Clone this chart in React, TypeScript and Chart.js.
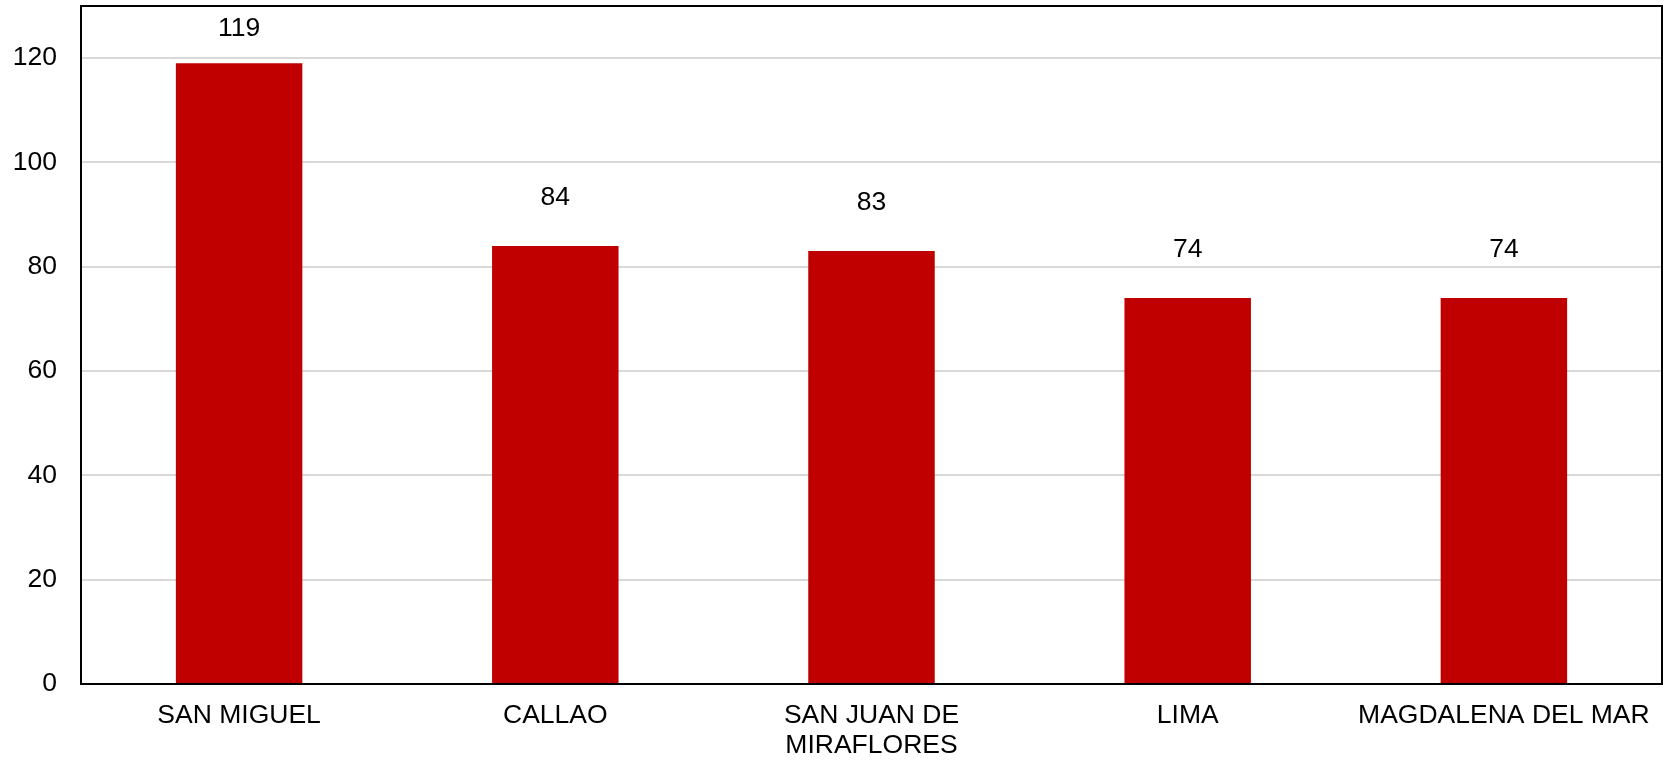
import React, { useEffect, useRef } from "react";
import { Chart, registerables } from "chart.js";

Chart.register(...registerables);

const categories: (string | string[])[] = [
  "SAN MIGUEL",
  "CALLAO",
  ["SAN JUAN DE", "MIRAFLORES"],
  "LIMA",
  "MAGDALENA DEL MAR",
];
const values: number[] = [119, 84, 83, 74, 74];
const yTicks: number[] = [0, 20, 40, 60, 80, 100, 120];

const FONT = "'Liberation Sans', Arial, sans-serif";
const FS = 26.5;

const frame = {
  id: "frame",
  afterDatasetsDraw(chart: any) {
    const { ctx, chartArea } = chart;
    ctx.save();
    ctx.strokeStyle = "#000";
    ctx.lineWidth = 2;
    ctx.strokeRect(chartArea.left, chartArea.top, chartArea.right - chartArea.left, chartArea.bottom - chartArea.top);
    ctx.restore();
    const meta = chart.getDatasetMeta(0);
    ctx.save();
    ctx.font = `${FS}px ${FONT}`;
    ctx.fillStyle = "#000";
    ctx.textAlign = "center";
    ctx.textBaseline = "middle";
    meta.data.forEach((bar: any, i: number) => {
      const y = Math.max(bar.y - 48, chartArea.top + 23);
      ctx.fillText(String(values[i]), bar.x, y);
    });
    ctx.restore();
  },
};

export default function App() {
  const ref = useRef<HTMLCanvasElement>(null);
  useEffect(() => {
    const chart = new Chart(ref.current!, {
      type: "bar",
      data: {
        labels: categories,
        datasets: [
          {
            data: values,
            backgroundColor: "#C00000",
            barPercentage: 0.4,
            categoryPercentage: 1,
          },
        ],
      },
      options: {
        animation: false,
        responsive: false,
        layout: { padding: { top: 6, right: 1, left: 0, bottom: 0 } },
        plugins: { legend: { display: false }, tooltip: { enabled: false } },
        scales: {
          x: {
            grid: { display: true, color: "rgba(0,0,0,0)", drawTicks: true, tickLength: 17 },
            border: { color: "#000", width: 2 },
            ticks: {
              color: "#000",
              padding: 0,
              maxRotation: 0,
              autoSkip: false,
              font: { family: FONT, size: FS, lineHeight: 1.13 },
            },
            afterFit: (axis: any) => {
              axis.height = 78;
            },
          },
          y: {
            min: 0,
            max: 130,
            grid: { color: "#d9d9d9", lineWidth: 2, drawTicks: true, tickLength: 24, tickColor: "rgba(0,0,0,0)" },
            border: { color: "#000", width: 2 },
            ticks: {
              color: "#000",
              padding: 0,
              stepSize: 20,
              font: { family: FONT, size: FS, lineHeight: 0.4 },
            },
            afterBuildTicks: (axis: any) => {
              axis.ticks = yTicks.map((v) => ({ value: v }));
            },
            afterFit: (axis: any) => {
              axis.width = 81;
            },
          },
        },
      },
      plugins: [frame],
    });
    return () => chart.destroy();
  }, []);
  return (
    <div style={{ position: "fixed", left: 0, top: 0, width: 1663, height: 762, background: "#fff" }}>
      <canvas ref={ref} width={1663} height={762} style={{ display: "block" }} />
    </div>
  );
}
